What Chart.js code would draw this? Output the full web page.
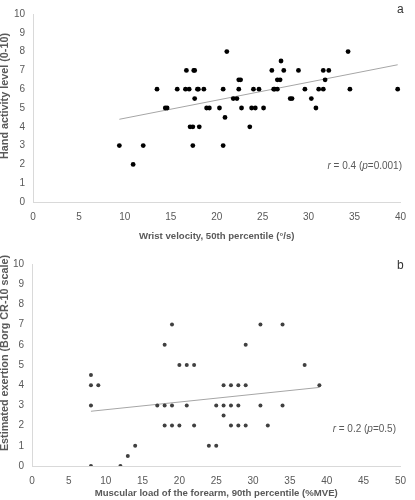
<!DOCTYPE html>
<html>
<head>
<meta charset="utf-8">
<script src="https://cdn.jsdelivr.net/npm/chart.js@4"></script>
<style>
  html, body { margin: 0; padding: 0; background: #fff; }
  #wrap { position: relative; width: 415px; height: 500px; }
  canvas { position: absolute; left: 0; }
  #ca { top: 0; }
  #cb { top: 250px; }
</style>
</head>
<body>
<div id="wrap">
  <canvas id="ca" width="415" height="250"></canvas>
  <canvas id="cb" width="415" height="250"></canvas>
</div>
<script>
// ---- Panel a data ----
const wristVelocity = [9.4, 10.9, 12.0, 13.5, 14.4, 14.6, 15.7, 16.6, 16.7, 17.0, 17.1, 17.4, 17.4, 17.5, 17.6, 17.6, 17.9, 18.0, 18.1, 18.6, 18.9, 19.2, 20.3, 20.7, 20.7, 20.9, 21.1, 21.8, 22.2, 22.4, 22.6, 22.4, 22.7, 23.6, 23.8, 24.2, 24.0, 24.6, 25.1, 26.0, 26.2, 26.3, 26.6, 26.9, 26.6, 27.0, 27.3, 28.0, 28.2, 28.9, 29.6, 30.3, 30.8, 31.1, 31.6, 31.6, 31.8, 32.2, 34.3, 34.5, 39.7];
const handActivity  = [3, 2, 3, 6, 5, 5, 6, 6, 7, 6, 4, 4, 3, 7, 7, 5.5, 6, 6, 4, 6, 5, 5, 5, 6, 3, 4.5, 8, 5.5, 5.5, 6.5, 6.5, 6, 5, 4, 5, 5, 6, 6, 5, 7, 6, 6, 6.5, 6.5, 6, 7.5, 7, 5.5, 5.5, 7, 6, 5.5, 5, 6, 7, 6, 6.5, 7, 8, 6, 6];
const trendAX = [9.4, 39.7];
const trendAY = [4.4, 7.3];

// ---- Panel b data ----
const muscularLoad = [8, 8, 8, 8, 9, 12, 13, 14, 17, 18, 18, 18, 19, 19, 19, 20, 20, 21, 21, 22, 22, 24, 25, 25, 26, 26, 26, 27, 27, 27, 28, 28, 28, 29, 29, 29, 31, 31, 32, 34, 34, 37, 39];
const exertion     = [4.5, 4, 3, 0, 4, 0, 0.5, 1, 3, 6, 3, 2, 7, 3, 2, 5, 2, 5, 3, 5, 2, 1, 3, 1, 4, 3, 2.5, 4, 3, 2, 4, 3, 2, 6, 4, 2, 7, 3, 2, 7, 3, 5, 4];
const trendBX = [8, 39];
const trendBY = [2.71, 3.89];

// ---- tick settings ----
const yTicks = [0, 1, 2, 3, 4, 5, 6, 7, 8, 9, 10];
const xTicksA = [0, 5, 10, 15, 20, 25, 30, 35, 40];
const xTicksB = [0, 5, 10, 15, 20, 25, 30, 35, 40, 45, 50];

const FONT = "'Liberation Sans', Arial, sans-serif";
const GREY = '#595959';

function pts(xs, ys) { return xs.map((x, i) => ({ x: x, y: ys[i] })); }

function annotPlugin(cfg) {
  return {
    id: 'annot',
    afterDraw(chart) {
      const ctx = chart.ctx;
      const ys = chart.scales.y;
      ctx.save();
      // correlation note
      ctx.fillStyle = GREY;
      ctx.textBaseline = 'middle';
      ctx.textAlign = 'left';
      let total = 0;
      cfg.annot.forEach(p => {
        ctx.font = (p.it ? 'italic ' : '') + '10px ' + FONT;
        total += ctx.measureText(p.t).width;
      });
      let x = cfg.annotX - total;
      const y = ys.getPixelForValue(cfg.annotY);
      cfg.annot.forEach(p => {
        ctx.font = (p.it ? 'italic ' : '') + '10px ' + FONT;
        ctx.fillText(p.t, x, y);
        x += ctx.measureText(p.t).width;
      });
      // panel letter
      ctx.font = '12px ' + FONT;
      ctx.fillStyle = '#333333';
      ctx.textAlign = 'center';
      ctx.fillText(cfg.letter, chart.chartArea.right, cfg.letterY);
      // y-axis title
      ctx.translate(5, cfg.ytitleY);
      ctx.rotate(-Math.PI / 2);
      ctx.font = 'bold 10.8px ' + FONT;
      ctx.fillStyle = GREY;
      ctx.textAlign = 'center';
      ctx.textBaseline = 'middle';
      ctx.fillText(cfg.ytitle, 0, 0);
      ctx.restore();
    }
  };
}

function makeChart(id, cfg) {
  return new Chart(document.getElementById(id), {
    type: 'scatter',
    data: {
      datasets: [
        {
          data: pts(cfg.xs, cfg.ys),
          backgroundColor: cfg.dot,
          borderColor: cfg.dot,
          pointRadius: cfg.r,
          pointBorderWidth: 0,
          showLine: false
        },
        {
          data: pts(cfg.tx, cfg.ty),
          showLine: true,
          borderColor: '#a6a6a6',
          borderWidth: 1,
          pointRadius: 0,
          fill: false
        }
      ]
    },
    options: {
      responsive: false,
      animation: false,
      devicePixelRatio: 1,
      layout: { padding: { left: 0, right: 8, top: 7, bottom: 0 } },
      plugins: { legend: { display: false }, tooltip: { enabled: false } },
      scales: {
        x: {
          type: 'linear',
          min: 0, max: cfg.xmax,
          afterBuildTicks: s => { s.ticks = cfg.xticks.map(v => ({ value: v })); },
          afterFit: s => { s.height = cfg.xh; },
          grid: { display: false, drawTicks: false },
          border: { display: true, color: '#d9d9d9', width: 1 },
          ticks: { color: GREY, font: { family: FONT, size: 10 }, padding: 9, maxRotation: 0 },
          title: { display: true, text: cfg.xtitle, color: GREY, font: { family: FONT, size: 9.6, weight: 'bold', lineHeight: 1.2 }, padding: { top: 0, bottom: cfg.xtpad } }
        },
        y: {
          type: 'linear',
          min: 0, max: 10,
          afterBuildTicks: s => { s.ticks = yTicks.map(v => ({ value: v })); },
          afterFit: s => { s.width = cfg.yw; },
          grid: { display: false, drawTicks: false },
          border: { display: true, color: '#d9d9d9', width: 1 },
          ticks: { color: GREY, font: { family: FONT, size: 10 }, padding: 8 },
          title: { display: false }
        }
      }
    },
    plugins: [annotPlugin(cfg)]
  });
}

makeChart('ca', {
  xs: wristVelocity, ys: handActivity, tx: trendAX, ty: trendAY,
  dot: '#000000', r: 2.4, xmax: 40, xticks: xTicksA, xh: 48, yw: 33, xtpad: 8,
  xtitle: 'Wrist velocity, 50th percentile (°/s)',
  ytitle: 'Hand activity level (0-10)', ytitleY: 96,
  annot: [{ t: 'r', it: true }, { t: ' = 0.4 (' }, { t: 'p', it: true }, { t: '=0.001)' }],
  annotX: 402, annotY: 1.9, letter: 'a', letterY: 10
});

makeChart('cb', {
  xs: muscularLoad, ys: exertion, tx: trendBX, ty: trendBY,
  dot: '#404040', r: 2, xmax: 50, xticks: xTicksB, xh: 34, yw: 32, xtpad: 1,
  xtitle: 'Muscular load of the forearm, 90th percentile (%MVE)',
  ytitle: 'Estimated exertion (Borg CR-10 scale)', ytitleY: 103,
  annot: [{ t: 'r', it: true }, { t: ' = 0.2 (' }, { t: 'p', it: true }, { t: '=0.5)' }],
  annotX: 396, annotY: 1.8, letter: 'b', letterY: 16
});
</script>
</body>
</html>
